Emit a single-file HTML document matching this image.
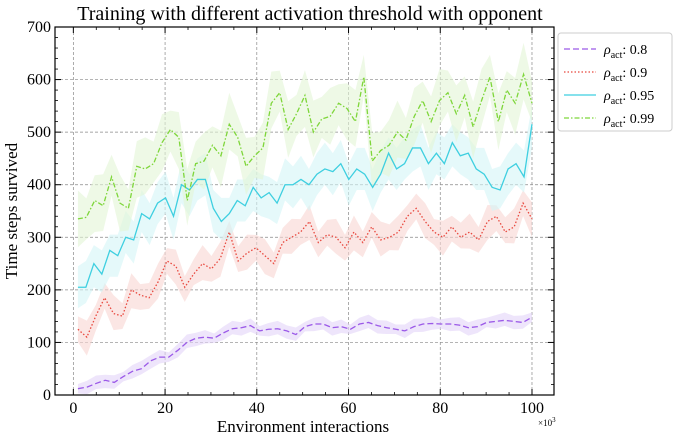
<!DOCTYPE html>
<html><head><meta charset="utf-8"><style>
body{margin:0;background:#fff}
svg{display:block;font-family:"Liberation Serif",serif}
</style></head><body>
<svg id="chart" width="680" height="440" viewBox="0 0 680 440">
<text x="310" y="20" text-anchor="middle" font-size="20">Training with different activation threshold with opponent</text>
<g id="grid"></g><g id="bands"></g><g id="lines"></g><g id="axes"></g>
<text x="303" y="432" text-anchor="middle" font-size="17">Environment interactions</text>
<text x="538" y="426" font-size="9">×10<tspan dy="-4" font-size="7">3</tspan></text>
<text transform="translate(17,211) rotate(-90)" text-anchor="middle" font-size="17">Time steps survived</text>
<g id="legend"></g>
</svg>
<script>
const categories=["0.8","0.9","0.95","0.99"];
const purple=[12,15,22,28,24,35,45,50,65,72,72,85,100,108,110,108,118,126,128,132,122,125,126,122,115,130,135,135,128,130,125,135,138,132,128,125,122,130,135,136,135,135,133,128,130,138,140,142,140,138,148];
const red=[125,110,150,185,155,150,200,190,185,215,255,245,205,230,250,240,260,310,255,270,280,265,250,290,300,310,330,290,305,300,280,310,290,320,295,300,310,340,355,330,310,300,320,300,310,295,330,340,310,320,365,335];
const cyan=[205,205,250,230,275,265,300,295,345,335,365,375,340,400,390,410,410,355,330,345,370,360,395,375,385,365,400,400,410,400,420,430,425,440,410,430,420,395,420,460,430,440,470,470,440,460,440,480,455,460,430,420,395,390,430,440,415,515];
const green=[335,338,370,360,415,365,355,435,430,440,480,505,490,370,440,445,475,455,515,490,435,455,470,555,575,505,535,570,500,525,530,555,545,520,605,445,465,475,500,485,530,560,520,560,575,535,570,510,560,605,520,580,555,610,555];
const spreads=[15,35,50,60];
const xTicks=[0,20,40,60,80,100];
const yTicks=[0,100,200,300,400,500,600,700];
const L=55,R=554,T=27,B=395,XMIN=-4,XMAX=104.8,YMAX=700;
const sx=v=>L+(v-XMIN)/(XMAX-XMIN)*(R-L);
const sy=v=>B-v/YMAX*(B-T);
const NS="http://www.w3.org/2000/svg";
function mk(tag,attrs,parent){const e=document.createElementNS(NS,tag);for(const k in attrs)e.setAttribute(k,attrs[k]);parent.appendChild(e);return e;}
const grid=document.getElementById('grid'),axes=document.getElementById('axes');
xTicks.forEach(t=>{const x=sx(t);
 const g=mk('line',{x1:x,x2:x,y1:T,y2:B,stroke:'#888','stroke-width':0.7,'stroke-dasharray':'3,2'},grid);
 
 mk('line',{x1:x,x2:x,y1:B,y2:B-6,stroke:'#000'},axes);mk('line',{x1:x,x2:x,y1:T,y2:T+6,stroke:'#000'},axes);
 const tx=mk('text',{x:x,y:B+18,'text-anchor':'middle','font-size':16},axes);tx.textContent=t;
 });
for(let v=-5;v<=105;v+=5){if(v%20===0)continue;const x=sx(v);if(x<L||x>R)continue;
 mk('line',{x1:x,x2:x,y1:B,y2:B-3,stroke:'#000','stroke-width':0.8},axes);mk('line',{x1:x,x2:x,y1:T,y2:T+3,stroke:'#000','stroke-width':0.8},axes);}
yTicks.forEach(t=>{const y=sy(t);
 if(t>0&&t<700){const g=mk('line',{x1:L,x2:R,y1:y,y2:y,stroke:'#888','stroke-width':0.7,'stroke-dasharray':'3,2'},grid);
 }
 mk('line',{x1:L,x2:L+6,y1:y,y2:y,stroke:'#000'},axes);mk('line',{x1:R,x2:R-6,y1:y,y2:y,stroke:'#000'},axes);
 const tx=mk('text',{x:L-4,y:y+5,'text-anchor':'end','font-size':16},axes);tx.textContent=t;
 });
for(let v=20;v<700;v+=20){if(v%100===0)continue;const y=sy(v);
 mk('line',{x1:L,x2:L+3,y1:y,y2:y,stroke:'#000','stroke-width':0.8},axes);mk('line',{x1:R,x2:R-3,y1:y,y2:y,stroke:'#000','stroke-width':0.8},axes);}
const fr=mk('rect',{x:L,y:T,width:R-L,height:B-T,fill:'none',stroke:'#000','stroke-width':1.2},axes);

const series=[purple,red,cyan,green];
const colors=['#9b59e8','#e8483e','#3ecfe0','#7ed63a'];
const fills=['#e2d4f8','#f8d5d2','#d3f5f7','#e3f5d6'];
const dashes=['6,3','1.5,2','','5,2,1.5,2'];
const names=['series-0.8','series-0.9','series-0.95','series-0.99'];
const bands=document.getElementById('bands'),lines=document.getElementById('lines');
series.forEach((d,i)=>{const n=d.length;const xs=d.map((_,j)=>1+j*99/(n-1));
 const up=d.map((v,j)=>sx(xs[j])+','+sy(v+spreads[i]*(0.6+0.4*((j*7+i)%5)/4)));
 const dn=d.map((v,j)=>sx(xs[j])+','+sy(Math.max(0,v-spreads[i]*(0.6+0.4*((j*3+i)%5)/4)))).reverse();
 const b=mk('polygon',{points:up.concat(dn).join(' '),fill:fills[i],'fill-opacity':0.6},bands);
 
 const p=mk('polyline',{points:d.map((v,j)=>sx(xs[j])+','+sy(v)).join(' '),fill:'none',stroke:colors[i],'stroke-width':1.3,'stroke-dasharray':dashes[i]},lines);
 });
const lg=document.getElementById('legend');
const box=mk('rect',{x:558,y:33,width:114,height:98,rx:3,fill:'#fff',stroke:'#ccc'},lg);

categories.forEach((c,i)=>{const y=49+i*23;
 const g=mk('g',{},lg);
 mk('line',{x1:564,x2:596,y1:y,y2:y,stroke:colors[i],'stroke-width':1.3,'stroke-dasharray':dashes[i]},g);
 const t=mk('text',{x:604,y:y+5,'font-size':14},g);
 t.innerHTML='<tspan font-style="italic">ρ</tspan><tspan font-size="10" dy="4">act</tspan><tspan dy="-4">: '+c+'</tspan>';});
</script>
</body></html>
